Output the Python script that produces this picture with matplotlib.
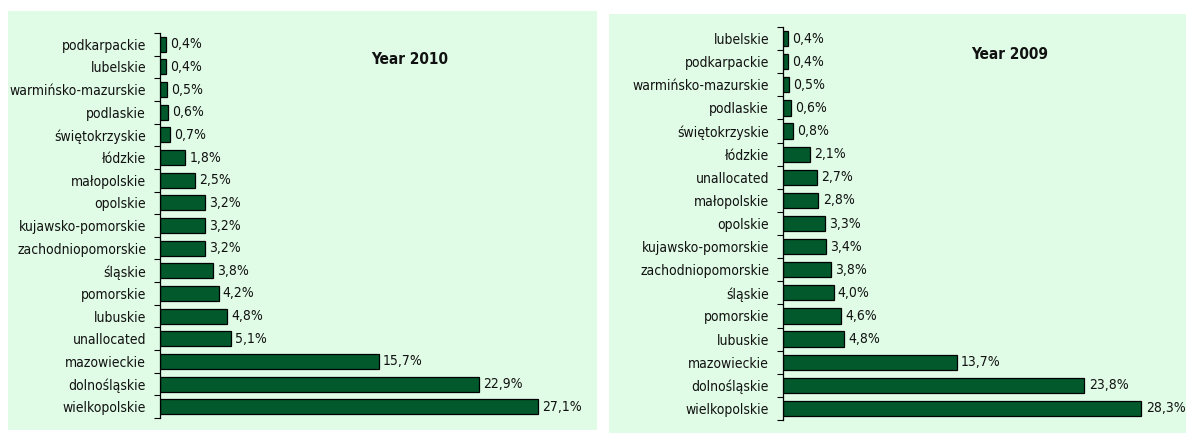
import matplotlib
matplotlib.use("Agg")
import matplotlib.pyplot as plt
from matplotlib import font_manager
from matplotlib.patches import Rectangle
import numpy as np

# look for a narrow face, like the Arial Narrow of the original
narrow = [f for f in font_manager.fontManager.ttflist
          if ("Narrow" in f.name or "Condensed" in f.name
              or f.stretch in ("condensed", "semi-condensed"))]
if narrow:
    fam = narrow[0].name
    stretch = narrow[0].stretch
else:
    fam = "Roboto"
    stretch = "normal"
plt.rcParams["font.family"] = [fam, "DejaVu Sans"]
plt.rcParams["font.stretch"] = stretch

# Year 2010, top to bottom
regions_2010 = ["podkarpackie", "lubelskie", "warmińsko-mazurskie", "podlaskie",
                "świętokrzyskie", "łódzkie", "małopolskie", "opolskie",
                "kujawsko-pomorskie", "zachodniopomorskie", "śląskie", "pomorskie",
                "lubuskie", "unallocated", "mazowieckie", "dolnośląskie", "wielkopolskie"]
share_2010 = [0.4, 0.4, 0.5, 0.6, 0.7, 1.8, 2.5, 3.2, 3.2, 3.2, 3.8, 4.2, 4.8, 5.1,
              15.7, 22.9, 27.1]

# Year 2009, top to bottom
regions_2009 = ["lubelskie", "podkarpackie", "warmińsko-mazurskie", "podlaskie",
                "świętokrzyskie", "łódzkie", "unallocated", "małopolskie", "opolskie",
                "kujawsko-pomorskie", "zachodniopomorskie", "śląskie", "pomorskie",
                "lubuskie", "mazowieckie", "dolnośląskie", "wielkopolskie"]
share_2009 = [0.4, 0.4, 0.5, 0.6, 0.8, 2.1, 2.7, 2.8, 3.3, 3.4, 3.8, 4.0, 4.6, 4.8,
              13.7, 23.8, 28.3]

W, H = 1186, 433
BG = "#E0FCE6"
BAR = "#02592B"

fig = plt.figure(figsize=(W / 100, H / 100), dpi=100)
fig.patches.append(Rectangle((8 / W, 3 / H), 589 / W, 419 / H, transform=fig.transFigure,
                             facecolor=BG, edgecolor="none", zorder=-10))
fig.patches.append(Rectangle((609 / W, 0), 577 / W, 419 / H, transform=fig.transFigure,
                             facecolor=BG, edgecolor="none", zorder=-10))


def draw_panel(rect, labels, values, title, title_xy):
    ax = fig.add_axes(rect)
    ax.set_zorder(5)
    ax.set_facecolor("none")
    y = np.arange(len(labels))
    ax.barh(y, values, height=0.66, color=BAR, edgecolor="black", linewidth=0.9)
    for yi, v in zip(y, values):
        ax.annotate(f"{v:.1f}%".replace(".", ","), (v, yi), xytext=(3, 0),
                    textcoords="offset points", va="center", ha="left",
                    fontsize=10, color="#111111", annotation_clip=False)
    ax.set_ylim(len(labels) - 0.5, -0.5)
    ax.set_xlim(0, 30)
    ax.set_yticks(y)
    ax.set_yticklabels(labels, fontsize=10, color="#111111")
    ax.tick_params(axis="y", which="major", length=0, pad=10)
    ax.set_yticks(np.arange(len(labels) + 1) - 0.5, minor=True)
    ax.tick_params(axis="y", which="minor", length=4, width=0.8, direction="out")
    ax.set_xticks([])
    for s in ["top", "right", "bottom"]:
        ax.spines[s].set_visible(False)
    ax.spines["left"].set_linewidth(0.9)
    ax.text(title_xy[0], title_xy[1], title, transform=ax.transAxes, ha="center",
            va="center", fontsize=11, fontweight="bold", color="#111111")
    return ax


draw_panel([160 / W, 15 / H, 418.5 / W, 385 / H], regions_2010, share_2010,
           "Year 2010", (0.597, 0.93))
draw_panel([783 / W, 13 / H, 380 / W, 393 / H], regions_2009, share_2009,
           "Year 2009", (0.597, 0.929))

fig.savefig("out.png", dpi=100, facecolor="white")
